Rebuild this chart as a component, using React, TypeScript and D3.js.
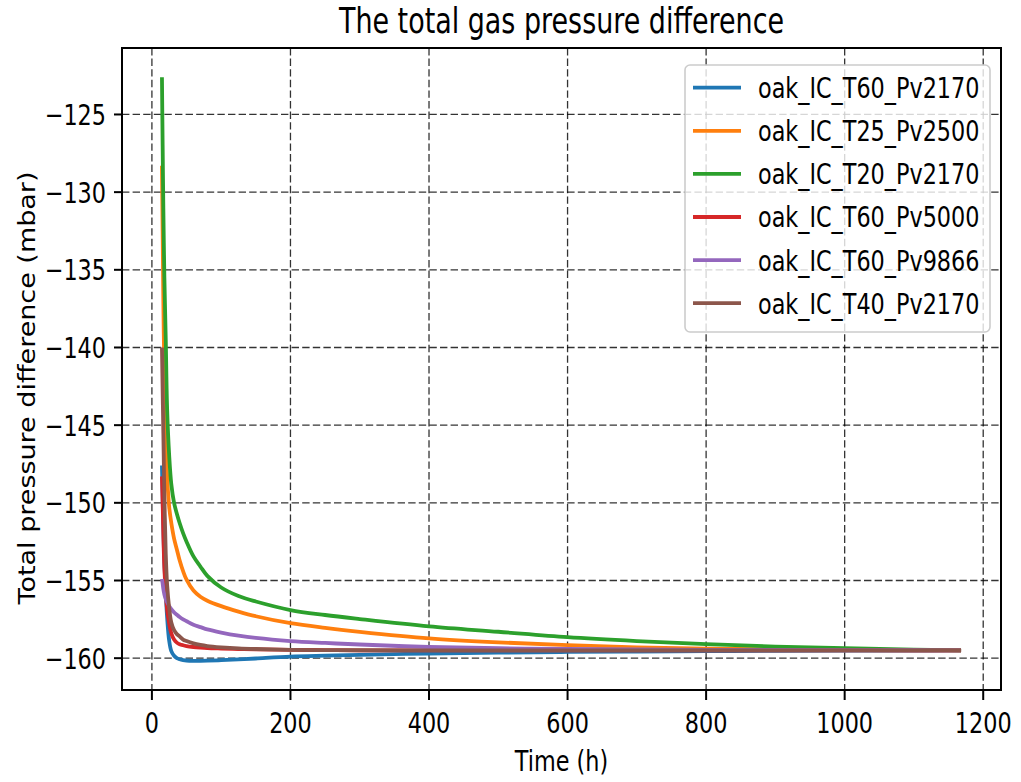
import React, { useEffect, useRef } from "react";
import * as d3 from "d3";

// time axis shared by all runs (h)
const hours = [
  14.5, 15.5, 16.5, 18, 20, 22, 25, 28, 32, 36, 40, 45, 50, 60, 70, 80, 100,
  125, 150, 200, 250, 300, 400, 500, 600, 700, 800, 900, 1000, 1100, 1168,
];

const seriesNames = [
  "oak_IC_T60_Pv2170",
  "oak_IC_T25_Pv2500",
  "oak_IC_T20_Pv2170",
  "oak_IC_T60_Pv5000",
  "oak_IC_T60_Pv9866",
  "oak_IC_T40_Pv2170",
];

const seriesColors = ["#1f77b4", "#ff7f0e", "#2ca02c", "#d62728", "#9467bd", "#8c564b"];

// total pressure difference (mbar)
const t60Pv2170 = [
  -147.6, -149.6, -151.6, -153.9, -155.8, -157.4, -158.9, -159.55, -159.85, -160.0,
  -160.07, -160.12, -160.15, -160.17, -160.17, -160.16, -160.13, -160.08, -160.02,
  -159.9, -159.84, -159.79, -159.7, -159.64, -159.6, -159.57, -159.55, -159.53,
  -159.52, -159.51, -159.5,
];
const t25Pv2500 = [
  -128.3, -132.5, -137.0, -141.6, -146.0, -148.3, -150.3, -151.3, -152.3, -153.0,
  -153.7, -154.4, -154.95, -155.65, -156.05, -156.3, -156.65, -157.0, -157.3, -157.75,
  -158.05, -158.3, -158.72, -158.98, -159.16, -159.3, -159.38, -159.43, -159.47,
  -159.49, -159.5,
];
const t20Pv2170 = [
  -122.6, -127.0, -131.0, -135.5, -139.5, -144.0, -147.0, -148.8, -150.0, -150.7,
  -151.3, -151.95, -152.5, -153.45, -154.1, -154.7, -155.45, -156.0, -156.35, -156.9,
  -157.22, -157.48, -157.95, -158.3, -158.65, -158.9, -159.1, -159.25, -159.36,
  -159.45, -159.5,
];
const t60Pv5000 = [
  -148.3, -150.0, -152.0, -154.2, -155.8, -156.9, -157.8, -158.4, -158.8, -159.0,
  -159.1, -159.17, -159.22, -159.28, -159.32, -159.35, -159.38, -159.41, -159.43,
  -159.46, -159.48, -159.5, -159.5, -159.5, -159.5, -159.5, -159.5, -159.5, -159.5,
  -159.5, -159.5,
];
const t60Pv9866 = [
  -154.9, -155.2, -155.55, -155.9, -156.2, -156.4, -156.65, -156.85, -157.05, -157.2,
  -157.35, -157.5, -157.62, -157.85, -158.0, -158.15, -158.35, -158.55, -158.7,
  -158.9, -159.02, -159.12, -159.28, -159.36, -159.41, -159.44, -159.46, -159.47,
  -159.48, -159.49, -159.5,
];
const t40Pv2170 = [
  -140.0, -142.8, -145.5, -149.5, -153.3, -155.3, -156.8, -157.7, -158.2, -158.45,
  -158.6, -158.8, -158.9, -159.05, -159.15, -159.22, -159.3, -159.37, -159.41,
  -159.46, -159.48, -159.49, -159.5, -159.5, -159.5, -159.5, -159.5, -159.5, -159.5,
  -159.5, -159.5,
];

const seriesValues = [t60Pv2170, t25Pv2500, t20Pv2170, t60Pv5000, t60Pv9866, t40Pv2170];

const xTicks = [0, 200, 400, 600, 800, 1000, 1200];
const yTicks = [-125, -130, -135, -140, -145, -150, -155, -160];

const App: React.FC = () => {
  const svgRef = useRef<SVGSVGElement>(null);

  useEffect(() => {
    if (!svgRef.current) return;
    const width = 1021;
    const height = 782;
    const svg = d3.select(svgRef.current).attr("width", width).attr("height", height);
    svg.selectAll("*").remove();

    const left = 122, right = 1001, top = 48, bottom = 690;
    const squeeze = 0.77; // text in the reference is narrowed horizontally
    const font = "DejaVu Sans, sans-serif";

    // matplotlib-style 5% margins
    const allY = seriesValues.flat();
    const xMin = d3.min(hours)!, xMax = d3.max(hours)!;
    const yMin = d3.min(allY)!, yMax = d3.max(allY)!;
    const xPad = (xMax - xMin) * 0.05;
    const yPad = (yMax - yMin) * 0.05;

    const x = d3.scaleLinear().domain([xMin - xPad, xMax + xPad]).range([left, right]);
    const y = d3.scaleLinear().domain([yMin - yPad, yMax + yPad]).range([bottom, top]);

    svg.append("rect").attr("width", width).attr("height", height).attr("fill", "#fff");

    // grid
    const grid = svg.append("g").attr("stroke", "#000").attr("stroke-opacity", 0.8)
      .attr("stroke-width", 1.3).attr("stroke-dasharray", "7.4,3.2");
    xTicks.forEach((t) => {
      grid.append("line").attr("x1", x(t)).attr("x2", x(t)).attr("y1", top).attr("y2", bottom);
    });
    yTicks.forEach((t) => {
      grid.append("line").attr("x1", left).attr("x2", right).attr("y1", y(t)).attr("y2", y(t));
    });

    // lines
    const line = d3
      .line<number>()
      .x((_, i) => x(hours[i]))
      .y((d) => y(d))
      .curve(d3.curveCatmullRom.alpha(0.5));

    const plot = svg.append("g");
    seriesValues.forEach((vals, i) => {
      plot.append("path")
        .attr("d", line(vals))
        .attr("fill", "none")
        .attr("stroke", seriesColors[i])
        .attr("stroke-width", 3.8)
        .attr("stroke-linejoin", "round");
    });

    // spines
    svg.append("rect")
      .attr("x", left).attr("y", top)
      .attr("width", right - left).attr("height", bottom - top)
      .attr("fill", "none").attr("stroke", "#000").attr("stroke-width", 2);

    const sqText = (g: d3.Selection<SVGGElement, unknown, null, undefined>, tx: number, ty: number, extra = "", sx = squeeze) =>
      g.append("text")
        .attr("transform", `translate(${tx},${ty}) scale(${sx},1)${extra}`)
        .attr("font-family", font)
        .attr("fill", "#000");

    const axes = svg.append("g");

    // x ticks
    xTicks.forEach((t) => {
      axes.append("line").attr("x1", x(t)).attr("x2", x(t)).attr("y1", bottom).attr("y2", bottom + 10)
        .attr("stroke", "#000").attr("stroke-width", 2);
      sqText(axes, x(t), 733).attr("text-anchor", "middle").attr("font-size", 29).text(String(t));
    });

    // y ticks
    yTicks.forEach((t) => {
      axes.append("line").attr("x1", left - 8).attr("x2", left).attr("y1", y(t)).attr("y2", y(t))
        .attr("stroke", "#000").attr("stroke-width", 2);
      sqText(axes, 106, y(t)).attr("text-anchor", "end").attr("dy", "0.36em").attr("font-size", 29)
        .text(String(t).replace("-", "\u2212"));
    });

    // labels
    sqText(axes, (left + right) / 2, 33).attr("text-anchor", "middle").attr("font-size", 35)
      .text("The total gas pressure difference");
    sqText(axes, (left + right) / 2, 771).attr("text-anchor", "middle").attr("font-size", 29)
      .text("Time (h)");
    sqText(axes, 35, 388, " rotate(-90)", 0.85).attr("text-anchor", "middle").attr("font-size", 27)
      .text("Total pressure difference (mbar)");

    // legend
    const legend = svg.append("g");
    legend.append("rect")
      .attr("x", 685).attr("y", 65).attr("width", 305).attr("height", 267)
      .attr("rx", 5).attr("fill", "#fff").attr("fill-opacity", 0.8)
      .attr("stroke", "#cccccc").attr("stroke-width", 1.6);
    seriesNames.forEach((name, i) => {
      const ry = 87.7 + i * 43.1;
      legend.append("line").attr("x1", 693).attr("x2", 741).attr("y1", ry).attr("y2", ry)
        .attr("stroke", seriesColors[i]).attr("stroke-width", 3.8);
      sqText(legend, 758, ry).attr("dy", "0.36em").attr("font-size", 29).text(name);
    });
  }, []);

  return (
    <div style={{ position: "absolute", left: 0, top: 0 }}>
      <svg ref={svgRef} style={{ display: "block" }} />
    </div>
  );
};

export default App;
